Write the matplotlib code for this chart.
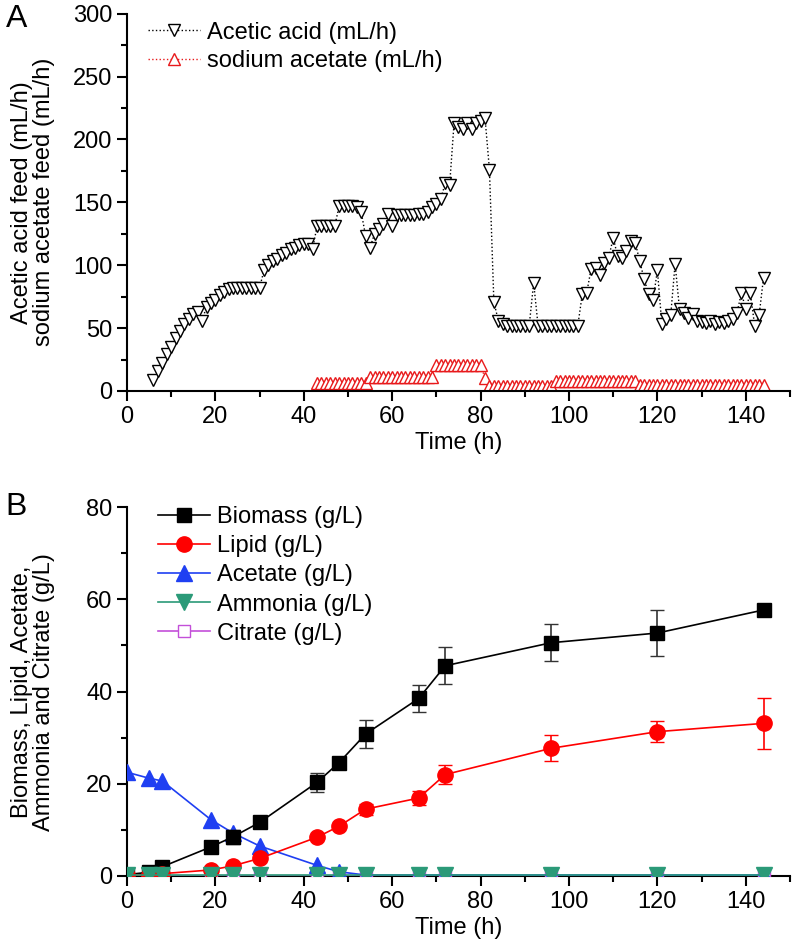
import numpy as np
import matplotlib.pyplot as plt
from matplotlib.ticker import MultipleLocator

plt.rcParams['font.family'] = ['Liberation Sans', 'DejaVu Sans']

# Panel A: feed rates (mL/h)
acid_t = [6, 7, 8, 9, 10, 11, 12, 13, 14, 15, 16, 17, 18, 19, 20,
          21, 22, 23, 24, 25, 26, 27, 28, 29, 30, 31, 32, 33, 34, 35,
          36, 37, 38, 39, 40, 41, 42, 43, 44, 45, 46, 47, 48, 49, 50,
          51, 52, 53, 54, 55, 56, 57, 58, 59, 60, 61, 62, 63, 64, 65,
          66, 67, 68, 69, 70, 71, 72, 73, 74, 75, 76, 77, 78, 79, 80,
          81, 82, 83, 84, 85, 86, 87, 88, 89, 90, 91, 92, 93, 94, 95,
          96, 97, 98, 99, 100, 101, 102, 103, 104, 105, 106, 107, 108, 109, 110,
          111, 112, 113, 114, 115, 116, 117, 118, 119, 120, 121, 122, 123, 124, 125,
          126, 127, 128, 129, 130, 131, 132, 133, 134, 135, 136, 137, 138, 139, 140,
          141, 142, 143, 144]
acid_v = [9, 16, 22, 29, 35, 42, 48, 53, 57, 61, 63, 56, 67, 70, 72,
          76, 79, 81, 82, 82, 82, 82, 82, 82, 82, 96, 100, 103, 105, 108,
          110, 113, 114, 116, 117, 117, 113, 131, 131, 131, 131, 131, 147, 147, 147,
          147, 146, 142, 123, 114, 125, 129, 133, 141, 131, 140, 140, 140, 140, 140,
          141, 141, 142, 146, 149, 153, 165, 164, 213, 210, 208, 213, 208, 213, 215,
          217, 176, 71, 56, 53, 52, 52, 52, 52, 52, 52, 86, 52, 52, 52,
          52, 52, 52, 52, 52, 52, 52, 77, 78, 97, 98, 92, 102, 106, 122,
          107, 106, 111, 119, 118, 103, 89, 77, 72, 96, 53, 57, 60, 101, 65,
          62, 58, 61, 56, 55, 54, 56, 53, 55, 54, 56, 57, 62, 78, 65,
          78, 52, 60, 90]

sodium_t = [43, 44, 45, 46, 47, 48, 49, 50, 51, 52, 53, 54, 55, 56, 57,
            58, 59, 60, 61, 62, 63, 64, 65, 66, 67, 68, 69, 70, 71, 72,
            73, 74, 75, 76, 77, 78, 79, 80, 81, 82, 83, 84, 85, 86, 87,
            88, 89, 90, 91, 92, 93, 94, 95, 96, 97, 98, 99, 100, 101, 102,
            103, 104, 105, 106, 107, 108, 109, 110, 111, 112, 113, 114, 115, 116, 117,
            118, 119, 120, 121, 122, 123, 124, 125, 126, 127, 128, 129, 130, 131, 132,
            133, 134, 135, 136, 137, 138, 139, 140, 141, 142, 143, 144]
sodium_v = [6, 6, 6, 6, 6, 6, 6, 6, 6, 6, 6, 6, 11, 11, 11,
            11, 11, 11, 11, 11, 11, 11, 11, 11, 11, 11, 11, 21, 21, 21,
            21, 21, 21, 21, 21, 21, 21, 21, 10, 4, 4, 4, 4, 4, 4,
            4, 4, 4, 4, 4, 4, 4, 4, 4, 8, 8, 8, 8, 8, 8,
            8, 8, 8, 8, 8, 8, 8, 8, 8, 8, 8, 8, 8, 5, 5,
            5, 5, 5, 5, 5, 5, 5, 5, 5, 5, 5, 5, 5, 5, 5,
            5, 5, 5, 5, 5, 5, 5, 5, 5, 5, 5, 5]

# Panel B: concentrations (g/L)
time_b = [0, 5, 8, 19, 24, 30, 43, 48, 54, 66, 72, 96, 120, 144]
biomass = [0.3, 0.8, 2.0, 6.3, 8.5, 11.6, 20.3, 24.6, 30.8, 38.5, 45.6, 50.6, 52.7, 57.7]
biomass_err = [0, 0, 0, 0, 1.5, 0.8, 2.0, 0, 3.0, 3.0, 4.0, 4.0, 5.0, 0]
lipid = [0.1, 0.3, 0.5, 1.3, 2.2, 3.8, 8.4, 10.8, 14.5, 16.9, 22.0, 27.7, 31.3, 33.1]
lipid_err = [0, 0, 0, 0, 0, 0, 0, 0, 1.2, 1.6, 2.1, 2.8, 2.3, 5.6]
acetate = [22.5, 21.2, 20.6, 12.2, 9.3, 6.5, 2.3, 0.9, 0.2, 0.2, 0.2, 0.2, 0.2, 0.2]
ammonia = [0.2, 0.2, 0.2, 0.2, 0.2, 0.2, 0.2, 0.2, 0.2, 0.2, 0.2, 0.2, 0.2, 0.2]
citrate = [0, 0, 0, 0, 0, 0, 0, 0, 0, 0, 0, 0, 0, 0]

FS = 17

fig = plt.figure(figsize=(7.96, 9.48), dpi=100)
ax1 = fig.add_axes([0.1595, 0.5876, 0.833, 0.398])
ax2 = fig.add_axes([0.1595, 0.076, 0.833, 0.389])

ax1.plot(acid_t, acid_v, ':', color='black', lw=1.0, marker='v', ms=9,
         mfc='white', mec='black', mew=1.0, label='Acetic acid (mL/h)')
ax1.plot(sodium_t, sodium_v, ':', color='#e8191b', lw=1.0, marker='^', ms=9,
         mfc='white', mec='#e8191b', mew=1.0, label='sodium acetate (mL/h)')
ax1.set_xlim(0, 150)
ax1.set_ylim(0, 300)
ax1.xaxis.set_major_locator(MultipleLocator(20))
ax1.xaxis.set_minor_locator(MultipleLocator(10))
ax1.yaxis.set_major_locator(MultipleLocator(50))
ax1.yaxis.set_minor_locator(MultipleLocator(25))
ax1.set_xlabel('Time (h)', fontsize=FS, labelpad=3)
ax1.set_ylabel('Acetic acid feed (mL/h)\nsodium acetate feed (mL/h)', fontsize=FS,
               linespacing=1.0)
ax1.yaxis.set_label_coords(-0.108, 0.5)
ax1.legend(loc='upper left', bbox_to_anchor=(0.0, 1.035), frameon=False, fontsize=FS,
           handlelength=2.2, handletextpad=0.3, labelspacing=0.28)
ax1.text(-0.183, 0.985, 'A', transform=ax1.transAxes, fontsize=23, va='center')

ax2.plot(time_b, citrate, '-', color='#c34fd9', lw=1.2, marker='s', ms=8,
         mfc='white', mec='#c34fd9', zorder=3)
l_bio = ax2.errorbar(time_b, biomass, yerr=biomass_err, color='black', lw=1.2, marker='s',
                     ms=10, capsize=5, ecolor='#333333', elinewidth=1.2, zorder=5)
l_lip = ax2.errorbar(time_b, lipid, yerr=lipid_err, color='#ff0000', lw=1.2, marker='o',
                     ms=11, capsize=5, elinewidth=1.2, zorder=5)
l_ace, = ax2.plot(time_b, acetate, '-', color='#1f3ff2', lw=1.2, marker='^', ms=11, zorder=4)
l_amm, = ax2.plot(time_b, ammonia, '-', color='#2b9a78', lw=1.2, marker='v', ms=11, zorder=6)
l_cit, = ax2.plot([], [], '-', color='#c34fd9', lw=1.2, marker='s', ms=8,
                  mfc='white', mec='#c34fd9')
ax2.set_xlim(0, 150)
ax2.set_ylim(0, 80)
ax2.xaxis.set_major_locator(MultipleLocator(20))
ax2.xaxis.set_minor_locator(MultipleLocator(10))
ax2.yaxis.set_major_locator(MultipleLocator(20))
ax2.yaxis.set_minor_locator(MultipleLocator(10))
ax2.set_xlabel('Time (h)', fontsize=FS, labelpad=3)
ax2.set_ylabel('Biomass, Lipid, Acetate,\nAmmonia and Citrate (g/L)', fontsize=FS,
               linespacing=1.0)
ax2.yaxis.set_label_coords(-0.108, 0.5)
ax2.legend([l_bio[0], l_lip[0], l_ace, l_amm, l_cit],
           ['Biomass (g/L)', 'Lipid (g/L)', 'Acetate (g/L)', 'Ammonia (g/L)', 'Citrate (g/L)'],
           loc='upper left', bbox_to_anchor=(0.015, 1.06), frameon=False, fontsize=FS,
           handlelength=2.2, handletextpad=0.3, labelspacing=0.3)
ax2.text(-0.183, 1.0, 'B', transform=ax2.transAxes, fontsize=23, va='center')

for ax in (ax1, ax2):
    ax.spines['top'].set_visible(False)
    ax.spines['right'].set_visible(False)
    ax.spines['left'].set_linewidth(1.5)
    ax.spines['bottom'].set_linewidth(1.5)
    ax.tick_params(which='major', direction='out', length=7, width=1.5, labelsize=FS)
    ax.tick_params(which='minor', direction='out', length=4, width=1.5)

fig.savefig('out.png', dpi=100)
